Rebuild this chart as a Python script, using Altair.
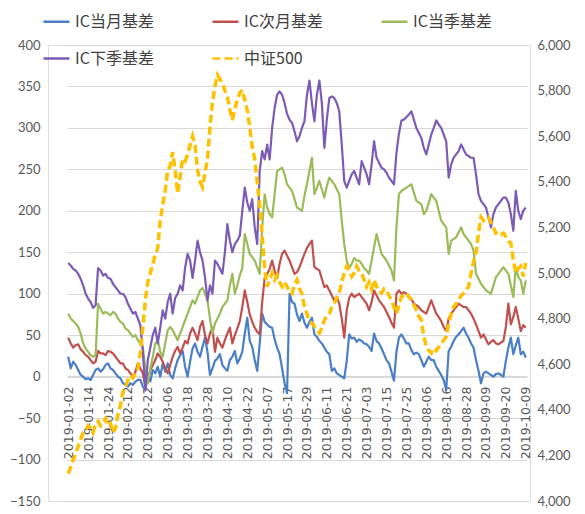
import altair as alt
import pandas as pd

# ---------------- data ----------------
holidays = ["2019-01-01", "2019-02-04", "2019-02-05", "2019-02-06", "2019-02-07",
            "2019-02-08", "2019-04-05", "2019-05-01", "2019-05-02", "2019-05-03",
            "2019-06-07", "2019-09-13", "2019-10-01", "2019-10-02", "2019-10-03",
            "2019-10-04", "2019-10-07"]
dates = [d.strftime("%Y-%m-%d") for d in pd.bdate_range("2019-01-02", "2019-10-09")
         if d.strftime("%Y-%m-%d") not in holidays]
label_dates = dates[::8]

names = ["IC当月基差", "IC次月基差", "IC当季基差", "IC下季基差", "中证500"]
colors = ["#4A7EC7", "#C0504D", "#9BBB59", "#7B5BB6", "#FFC000"]
dashes = [[1, 0], [1, 0], [1, 0], [1, 0], [8, 4]]

ic_cur = [24, 10, 18, 14, 8, 2, 0, -3,
          -2, -4, 2, 8, 10, 6, 9, 14,
          16, 10, 8, 4, 0, -2, -8, -10,
          -12, -8, -10, -6, -4, -4, -12, -16,
          2, -6, 8, 4, 12, 0, 16, 6,
          16, 2, -2, 10, 20, 26, 31, 12,
          0, 18, 34, 40, 30, 24, 36, 47,
          30, 2, 10, 19, 22, 27, 14, 10,
          7, 20, 24, 31, 16, 22, 30, 52,
          71, 43, 36, 20, 7, 40, 76, 66,
          63, 60, 59, 45, 35, 27, 10, -8,
          -20, 100, 90, 88, 75, 67, 76, 65,
          59, 66, 71, 51, 48, 43, 40, 35,
          30, 27, 7, 10, 4, 2, 0, -2,
          19, 51, 46, 47, 42, 45, 43, 40,
          39, 36, 31, 52, 43, 40, 34, 27,
          20, 16, 6, -5, 30, 47, 51, 46,
          40, 40, 32, 27, 29, 27, 20, 12,
          18, 24, 20, 20, 12, 7, 2, -4,
          -16, 31, 36, 43, 48, 51, 55, 59,
          52, 47, 40, 35, 20, 7, -8, 4,
          6, 4, 2, 0, 3, 4, 2, 0,
          19, 35, 47, 27, 38, 47, 27, 30,
          23]

ic_next = [47, 40, 35, 38, 39, 33, 30, 26,
           24, 20, 16, 18, 31, 28, 28, 26,
           31, 30, 28, 24, 20, 16, 16, 10,
           8, 4, 0, 6, 16, 10, 4, -12,
           -4, 8, 14, 20, 28, 24, 18, 10,
           4, 14, 24, 31, 36, 28, 35, 43,
           40, 52, 59, 52, 44, 60, 67, 50,
           40, 52, 59, 30, 47, 40, 35, 44,
           52, 59, 40, 50, 58, 67, 84, 104,
           90, 75, 66, 59, 54, 51, 90, 119,
           124, 130, 140, 128, 119, 136, 148, 152,
           146, 140, 132, 124, 126, 132, 140, 148,
           155, 160, 164, 132, 130, 128, 118, 108,
           110, 104, 98, 92, 96, 88, 70, 47,
           80, 95, 100, 96, 98, 100, 96, 92,
           88, 80, 90, 104, 98, 92, 88, 84,
           78, 72, 65, 59, 100, 104, 100, 102,
           100, 96, 94, 88, 86, 84, 80, 78,
           76, 84, 92, 84, 76, 72, 67, 60,
           55, 70, 76, 80, 84, 88, 86, 84,
           84, 80, 76, 70, 63, 55, 47, 51,
           45, 39, 42, 44, 40, 39, 41, 43,
           60, 88, 63, 72, 84, 70, 55, 62,
           59]

ic_q = [76, 70, 67, 64, 60, 52, 40, 34,
        30, 26, 24, 26, 88, 82, 76, 78,
        76, 74, 78, 76, 70, 66, 64, 58,
        56, 52, 48, 50, 44, 40, 36, 10,
        -8, 10, 24, 40, 44, 30, 24, 40,
        56, 60, 56, 50, 44, 52, 60, 68,
        76, 84, 92, 88, 96, 104, 107, 100,
        92, 70, 52, 64, 70, 76, 84, 88,
        92, 110, 124, 100, 110, 122, 131, 172,
        160, 148, 144, 140, 132, 124, 180, 220,
        204, 196, 192, 220, 248, 250, 252, 244,
        232, 228, 224, 214, 204, 202, 200, 218,
        232, 248, 264, 220, 228, 236, 226, 216,
        230, 240, 236, 232, 226, 220, 188, 160,
        140, 131, 136, 143, 140, 140, 136, 131,
        128, 124, 140, 156, 172, 160, 148, 144,
        140, 134, 128, 116, 180, 220, 224, 226,
        228, 230, 232, 222, 212, 210, 208, 196,
        200, 210, 220, 216, 212, 200, 188, 184,
        180, 148, 164, 166, 168, 174, 180, 172,
        168, 164, 160, 152, 124, 118, 112, 108,
        104, 102, 100, 110, 120, 124, 128, 132,
        128, 124, 110, 96, 132, 120, 116, 100,
        116]

ic_nq = [137, 134, 130, 128, 124, 118, 110, 100,
         94, 90, 83, 86, 131, 128, 122, 124,
         119, 118, 112, 108, 104, 100, 100, 96,
         88, 82, 76, 78, 70, 62, 30, -17,
         20, 35, 50, 59, 40, 59, 80, 70,
         90, 100, 76, 95, 100, 110, 104, 131,
         148, 140, 119, 140, 164, 150, 140, 120,
         92, 110, 100, 140, 136, 130, 124, 150,
         184, 164, 150, 160, 164, 170, 200, 228,
         210, 200, 214, 180, 160, 248, 272, 262,
         280, 262, 300, 324, 340, 344, 340, 330,
         317, 310, 306, 296, 284, 290, 300, 308,
         340, 357, 330, 308, 340, 357, 330, 276,
         310, 336, 338, 336, 330, 320, 280, 236,
         228, 236, 244, 248, 240, 232, 260, 252,
         244, 232, 256, 284, 264, 258, 252, 250,
         246, 240, 236, 232, 270, 293, 309, 310,
         313, 316, 320, 310, 300, 294, 288, 276,
         268, 280, 292, 300, 309, 304, 300, 292,
         284, 240, 256, 264, 268, 272, 280, 274,
         268, 266, 264, 264, 244, 220, 212, 208,
         204, 192, 180, 196, 204, 208, 212, 216,
         216, 210, 196, 176, 224, 200, 190, 200,
         204]

csi500 = [4120, 4150, 4180, 4210, 4240, 4270, 4300, 4310,
          4330, 4320, 4300, 4340, 4350, 4330, 4340, 4360,
          4330, 4340, 4300, 4320, 4380, 4420, 4480, 4500,
          4530, 4550, 4540, 4560, 4580, 4650, 4760, 4880,
          4960, 5000, 5040, 5080, 5110, 5230, 5300, 5360,
          5450, 5470, 5530, 5450, 5350, 5420, 5500, 5490,
          5520, 5560, 5600, 5560, 5452, 5400, 5377, 5440,
          5500, 5640, 5746, 5820, 5868, 5850, 5835, 5800,
          5772, 5715, 5671, 5720, 5759, 5790, 5803, 5760,
          5715, 5640, 5553, 5500, 5400, 5300, 5160, 5020,
          4940, 4970, 5000, 4970, 4990, 4960, 4940, 4960,
          4940, 4920, 4910, 4950, 4970, 4930, 4910, 4850,
          4820, 4790, 4780, 4765, 4750, 4737, 4760, 4794,
          4810, 4822, 4850, 4868, 4890, 4912, 4960, 5000,
          5030, 5010, 4985, 5000, 5030, 5010, 5000, 4970,
          4940, 4960, 4930, 4969, 4940, 4920, 4912, 4930,
          4925, 4900, 4882, 4850, 4822, 4860, 4895, 4905,
          4912, 4895, 4882, 4860, 4838, 4810, 4794, 4720,
          4680, 4660, 4649, 4670, 4660, 4675, 4690, 4705,
          4720, 4780, 4820, 4851, 4865, 4882, 4900, 4912,
          4925, 4940, 5000, 5050, 5088, 5175, 5245, 5230,
          5240, 5245, 5220, 5200, 5175, 5180, 5170, 5175,
          5160, 5140, 5131, 5057, 5000, 5020, 5030, 4985,
          5044]

left_ticks = [-150, -100, -50, 0, 50, 100, 150, 200, 250, 300, 350, 400]
right_ticks = [4000, 4200, 4400, 4600, 4800, 5000, 5200, 5400, 5600, 5800, 6000]

# ---------------- tables ----------------
rows = []
for name, vals in zip(names[:4], [ic_cur, ic_next, ic_q, ic_nq]):
    for d, v in zip(dates, vals):
        rows.append({"date": d, "series": name, "value": v})
basis_df = pd.DataFrame(rows)
idx_df = pd.DataFrame({"date": dates, "series": names[4], "close": csi500})

NUM_FONT = "Lato"
CJK_FONT = "Noto Sans CJK SC"

legend = alt.Legend(
    title=None, orient="none", legendX=-6, legendY=-38, columns=3, direction="horizontal",
    columnPadding=53, rowPadding=14, symbolType="stroke", symbolSize=676,
    symbolStrokeWidth=2.5, labelFont=CJK_FONT, labelFontSize=16,
    labelColor="#404040", labelOffset=4, padding=0,
)

color = alt.Color("series:N", scale=alt.Scale(domain=names, range=colors), legend=legend)
dash = alt.StrokeDash("series:N", scale=alt.Scale(domain=names, range=dashes), legend=legend)

x_axis = alt.Axis(values=label_dates, labelAngle=-90, offset=-125, labelOverlap=False,
                  ticks=False, domain=True, domainColor="#d9d9d9", labelPadding=10,
                  labelFont="DejaVu Sans", labelFontSize=12.5, labelColor="#595959",
                  grid=False)
x_scale = alt.Scale(type="point", range=[19, 479])

basis = alt.Chart(basis_df).mark_line(strokeWidth=2.2, strokeJoin="round").encode(
    x=alt.X("date:O", sort=None, title=None, scale=x_scale, axis=x_axis),
    y=alt.Y("value:Q", title=None,
            scale=alt.Scale(domain=[-150, 400], nice=False, zero=False),
            axis=alt.Axis(values=left_ticks, grid=True, gridColor="#d9d9d9", domain=False,
                          ticks=False, labelFont=NUM_FONT, labelFontSize=13,
                          labelColor="#595959", labelPadding=8)),
    color=color,
    strokeDash=dash,
)

index_line = alt.Chart(idx_df).mark_line(strokeWidth=3.5).encode(
    x=alt.X("date:O", sort=None, title=None, scale=x_scale, axis=x_axis),
    y=alt.Y("close:Q", title=None,
            scale=alt.Scale(domain=[4000, 6000], nice=False, zero=False),
            axis=alt.Axis(orient="right", values=right_ticks, format=",.0f", grid=False,
                          domain=False, ticks=False, labelFont=NUM_FONT, labelFontSize=13,
                          labelColor="#595959", labelPadding=7)),
    color=color,
    strokeDash=dash,
)

chart = alt.layer(basis, index_line).resolve_scale(y="independent").properties(
    width=482, height=456,
    padding={"left": 40, "top": 37, "right": 47, "bottom": 9},
    autosize=alt.AutoSizeParams(type="none"),
).configure_view(stroke="transparent").configure(background="white")

chart.save("out.html", embed_options={"renderer": "svg", "actions": False})
